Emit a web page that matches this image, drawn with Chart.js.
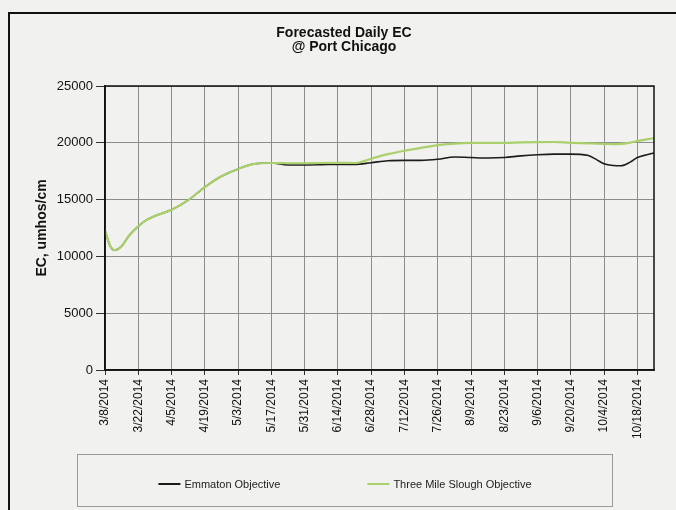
<!DOCTYPE html>
<html><head><meta charset="utf-8">
<script src="https://cdn.jsdelivr.net/npm/chart.js@4.4.1/dist/chart.umd.min.js"></script>
<style>html,body{margin:0;padding:0;background:#f1f1ef;}#wrap{width:676px;height:510px;position:relative;}</style>
</head><body><div id="wrap"><canvas id="c" width="676" height="510"></canvas></div>
<script>
const chartTitle = ["Forecasted Daily EC", "@ Port Chicago"];
const yAxisTitle = "EC, umhos/cm";
const startDate = [2014, 2, 8]; // 3/8/2014
const dayOffsets = [0,2,4,7,10,14,17,21,28,35,42,49,56,63,70,77,84,91,98,105,112,119,126,133,140,147,154,161,168,175,182,189,196,203,207,210,214,217,221,224,228,231];
const emmatonValues = [12300,11000,10550,10900,11800,12650,13150,13550,14100,14950,16100,17050,17700,18150,18220,18050,18050,18070,18100,18100,18250,18420,18450,18450,18550,18750,18700,18660,18700,18850,18950,19000,19000,18900,18500,18150,18000,17980,18300,18700,18950,19100];
const threeMileValues = [12300,11000,10550,10900,11800,12650,13150,13550,14100,14950,16100,17050,17700,18150,18220,18200,18200,18220,18230,18220,18600,19000,19300,19550,19800,19920,19990,20000,19990,20030,20060,20070,20000,19950,19920,19900,19880,19900,20020,20150,20300,20420];
const seriesNames = ["Emmaton Objective", "Three Mile Slough Objective"];
const xTickStepDays = 14;
const xMaxDay = 231;
const yTicks = [0, 5000, 10000, 15000, 20000, 25000];

Chart.defaults.font.family = "'Liberation Sans', Arial, sans-serif";
Chart.defaults.color = '#111';

function dayLabel(d) {
  const dt = new Date(startDate[0], startDate[1], startDate[2] + d);
  return (dt.getMonth() + 1) + '/' + dt.getDate() + '/' + dt.getFullYear();
}
const toPts = vals => dayOffsets.map((d, i) => ({x: d, y: vals[i]}));

const frame = {
  id: 'frame',
  beforeDraw(chart) {
    const ctx = chart.ctx;
    ctx.save();
    ctx.fillStyle = '#f1f1ef';
    ctx.fillRect(0, 0, chart.width, chart.height);
    ctx.strokeStyle = '#111';
    ctx.lineWidth = 2;
    ctx.beginPath();
    ctx.moveTo(9, chart.height + 5); ctx.lineTo(9, 13); ctx.lineTo(chart.width + 5, 13);
    ctx.stroke();
    ctx.restore();
  },
  afterDraw(chart) {
    const ctx = chart.ctx, a = chart.chartArea;
    ctx.save();
    ctx.strokeStyle = '#111';
    ctx.lineWidth = 1.5;
    ctx.strokeRect(a.left, a.top, a.right - a.left, a.bottom - a.top);
    // legend
    ctx.strokeStyle = '#9a9a9a';
    ctx.lineWidth = 1;
    ctx.strokeRect(77.5, 454.5, 535, 52);
    ctx.font = "11px 'Liberation Sans', Arial, sans-serif";
    ctx.textBaseline = 'middle';
    const lineLen = 22, gapTxt = 4, gapItem = 87;
    const ds = chart.data.datasets;
    const widths = ds.map(d => lineLen + gapTxt + ctx.measureText(d.label).width);
    const total = widths.reduce((s, w) => s + w, 0) + gapItem * (ds.length - 1);
    let x = 345 - total / 2;
    const y = 484;
    ds.forEach((d, i) => {
      ctx.strokeStyle = d.borderColor;
      ctx.lineWidth = 2;
      ctx.beginPath(); ctx.moveTo(x, y); ctx.lineTo(x + lineLen, y); ctx.stroke();
      ctx.fillStyle = '#222';
      ctx.fillText(d.label, x + lineLen + gapTxt, y + 1);
      x += widths[i] + gapItem;
    });
    ctx.restore();
  }
};

new Chart(document.getElementById('c'), {
  type: 'line',
  data: {
    datasets: [
      {label: seriesNames[0], data: toPts(emmatonValues), borderColor: '#1c1c1c', borderWidth: 1.6, pointRadius: 0, cubicInterpolationMode: 'monotone', order: 1},
      {label: seriesNames[1], data: toPts(threeMileValues), borderColor: '#a9d06b', borderWidth: 2.2, pointRadius: 0, cubicInterpolationMode: 'monotone', order: 0}
    ]
  },
  options: {
    responsive: false,
    animation: false,
    layout: {padding: {left: 34, right: 22, top: 0, bottom: 65}},
    plugins: {
      legend: {display: false},
      tooltip: {enabled: false},
      title: {display: true, text: chartTitle, font: {size: 14, weight: 'bold', lineHeight: 1.0}, color: '#111', padding: {top: 26, bottom: 32}}
    },
    scales: {
      x: {
        type: 'linear', min: 0, max: xMaxDay,
        afterFit(s) { s.height = 75; },
        afterBuildTicks(s) { s.ticks = s.ticks.filter(t => t.value % xTickStepDays === 0); },
        ticks: {stepSize: xTickStepDays, minRotation: 90, maxRotation: 90, autoSkip: false, padding: 4, font: {size: 12}, color: '#111', callback: v => dayLabel(v)},
        grid: {color: '#8c8c8c', lineWidth: 1, tickLength: 5, tickColor: '#333'},
        border: {color: '#111', width: 1.5}
      },
      y: {
        min: 0, max: 25000,
        afterFit(s) { s.width = 71; },
        afterBuildTicks(s) { s.ticks = yTicks.map(v => ({value: v})); },
        ticks: {padding: 3, font: {size: 13}, color: '#111', callback: v => String(v)},
        grid: {color: '#8c8c8c', lineWidth: 1, tickLength: 9, tickColor: '#333'},
        border: {color: '#111', width: 1.5},
        title: {display: true, text: yAxisTitle, font: {size: 14, weight: 'bold'}, color: '#111', padding: 0}
      }
    }
  },
  plugins: [frame]
});
</script>
</body></html>
